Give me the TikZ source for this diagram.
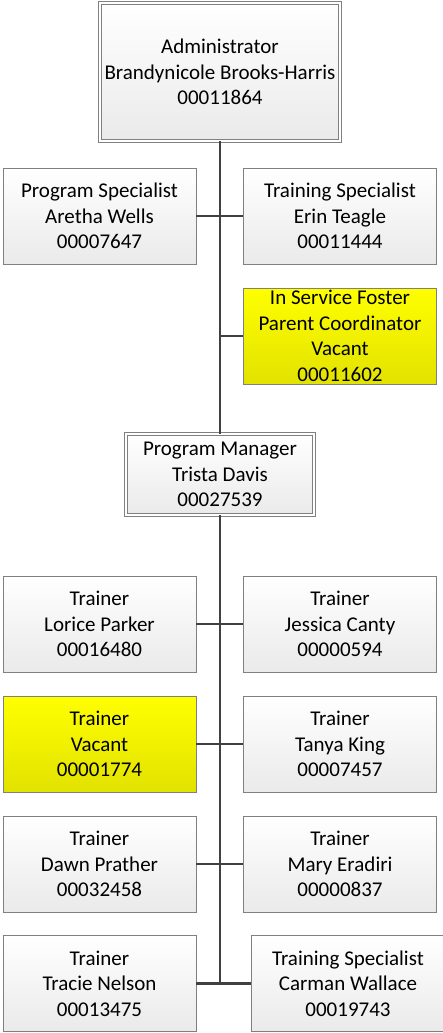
\documentclass[tikz,border=0pt]{standalone}
\usepackage{fontspec}
\setmainfont{Carlito}
\usetikzlibrary{positioning}
\definecolor{boxline}{RGB}{128,128,128}
\definecolor{linkgray}{RGB}{64,64,64}
\definecolor{boxbottom}{RGB}{234,234,234}
\definecolor{vacanttop}{RGB}{255,255,0}
\definecolor{vacantbottom}{RGB}{226,226,0}

\begin{document}
\begin{tikzpicture}[x=1pt, y=-1pt,
  orgbox/.style={draw=boxline, line width=0.8pt, top color=white, bottom color=boxbottom,
    minimum width=193pt, minimum height=96pt, inner sep=0pt, align=center,
    font=\fontsize{21}{25.5}\selectfont},
  vacantbox/.style={orgbox, top color=vacanttop, bottom color=vacantbottom},
  headbox/.style={orgbox, double=white, double distance=2.5pt},
  link/.style={draw=linkgray, line width=2.5pt}]
  \useasboundingbox (0,0) rectangle (443,1033);

  % top of the chart
  \node[headbox, minimum width=240pt, minimum height=138pt] (admin) at (220,72)
    {Administrator\\Brandynicole Brooks-Harris\\00011864};
  \node[orgbox] (progspec) at (99.5,216) {Program Specialist\\Aretha Wells\\00007647};
  \node[orgbox] (trainspec) at (340,216) {Training Specialist\\Erin Teagle\\00011444};
  \node[vacantbox] (fostercoord) at (340,336)
    {In Service Foster\\Parent Coordinator\\Vacant\\00011602};
  \node[headbox, minimum width=188pt, minimum height=81pt] (progmgr) at (220,474.5)
    {Program Manager\\Trista Davis\\00027539};

  % trainers
  \node[orgbox] (parker) at (99.5,624) {Trainer\\Lorice Parker\\00016480};
  \node[orgbox] (canty) at (340,624) {Trainer\\Jessica Canty\\00000594};
  \node[vacantbox] (vacanttrainer) at (99.5,744) {Trainer\\Vacant\\00001774};
  \node[orgbox] (king) at (340,744) {Trainer\\Tanya King\\00007457};
  \node[orgbox] (prather) at (99.5,864) {Trainer\\Dawn Prather\\00032458};
  \node[orgbox] (eradiri) at (340,864) {Trainer\\Mary Eradiri\\00000837};
  \node[orgbox] (nelson) at (99.5,983.5) {Trainer\\Tracie Nelson\\00013475};
  \node[orgbox] (wallace) at (348,983.5) {Training Specialist\\Carman Wallace\\00019743};

  \coordinate (trunkend) at (220,983.5);
  \draw[link] (admin.south) -- (progmgr.north);
  \draw[link] (progmgr.south) -- (trunkend);
  \draw[link] (progspec.east) -- (trainspec.west);
  \draw[link] (fostercoord.west) -- (fostercoord.west -| admin.south);
  \draw[link] (parker.east) -- (canty.west);
  \draw[link] (vacanttrainer.east) -- (king.west);
  \draw[link] (prather.east) -- (eradiri.west);
  \draw[link] (nelson.east) -- (wallace.west);
\end{tikzpicture}
\end{document}
